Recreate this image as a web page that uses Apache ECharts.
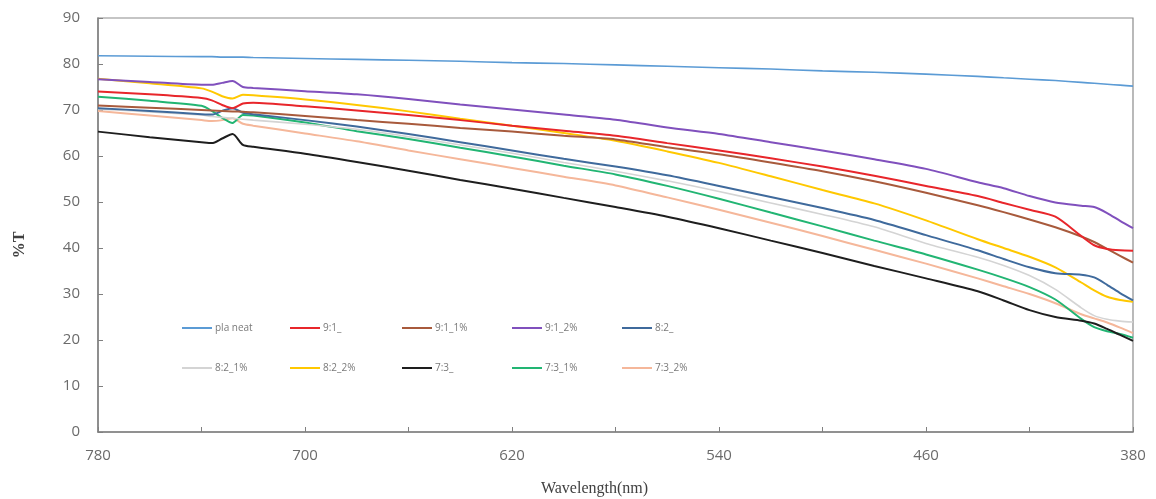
<!DOCTYPE html>
<html>
<head>
<meta charset="utf-8">
<script src="https://cdn.jsdelivr.net/npm/echarts@6/dist/echarts.min.js"></script>
<style>
  html, body { margin: 0; padding: 0; background: #fff; }
  #chart { width: 1156px; height: 499px; }
</style>
</head>
<body>
<div id="chart"></div>
<script>
// Transmittance spectra, wavelength (nm) vs %T
const wavelengths = [780, 760, 740, 736, 732, 728, 724, 720, 700, 680, 660, 640, 620, 600, 580,
                     560, 540, 520, 500, 480, 460, 440, 430, 420, 410, 400, 395, 390, 385, 380];

const plaNeat  = [81.8, 81.7, 81.6, 81.6, 81.5, 81.5, 81.5, 81.4, 81.2, 81.0, 80.8, 80.6, 80.3, 80.1, 79.8,
                  79.5, 79.2, 78.9, 78.5, 78.2, 77.8, 77.3, 77.0, 76.7, 76.4, 76.0, 75.8, 75.6, 75.4, 75.2];
const r91      = [74.0, 73.4, 72.6, 72.1, 71.1, 70.4, 71.4, 71.6, 70.8, 69.9, 68.9, 67.8, 66.6, 65.5, 64.4,
                  62.8, 61.2, 59.5, 57.7, 55.7, 53.5, 51.3, 49.8, 48.3, 46.8, 42.6, 40.6, 39.8, 39.5, 39.4];
const r91_1    = [71.0, 70.5, 70.0, 69.9, 69.8, 69.7, 69.6, 69.5, 68.7, 67.8, 67.0, 66.1, 65.3, 64.4, 63.6,
                  61.9, 60.4, 58.6, 56.7, 54.5, 52.0, 49.3, 47.8, 46.2, 44.5, 42.5, 41.3, 39.8, 38.3, 36.8];
const r91_2    = [76.7, 76.1, 75.5, 75.5, 75.9, 76.3, 75.0, 74.8, 74.1, 73.4, 72.4, 71.2, 70.1, 69.0, 67.9,
                  66.2, 64.8, 63.0, 61.2, 59.3, 57.2, 54.3, 53.0, 51.3, 49.9, 49.2, 48.9, 47.6, 45.9, 44.3];
const r82      = [70.4, 69.8, 69.1, 69.0, 69.8, 70.4, 69.4, 69.1, 67.8, 66.4, 64.8, 63.0, 61.2, 59.4, 57.7,
                  55.8, 53.5, 51.1, 48.7, 46.1, 42.8, 39.5, 37.6, 35.8, 34.5, 34.2, 33.6, 32.0, 30.2, 28.6];
const r82_1    = [70.2, 69.6, 68.9, 68.6, 68.4, 68.2, 68.0, 67.8, 66.9, 65.8, 64.2, 62.4, 60.6, 58.6, 56.7,
                  54.6, 52.3, 49.8, 47.3, 44.6, 41.0, 38.0, 36.2, 34.0, 31.0, 27.0, 25.3, 24.5, 24.1, 23.9];
const r82_2    = [76.8, 75.8, 74.7, 74.0, 73.0, 72.5, 73.3, 73.2, 72.3, 71.1, 69.7, 68.1, 66.6, 65.0, 63.3,
                  61.0, 58.5, 55.6, 52.6, 49.7, 46.0, 41.9, 40.0, 38.1, 35.8, 32.5, 30.8, 29.4, 28.7, 28.3];
const r73      = [65.3, 64.1, 63.0, 62.8, 63.8, 64.8, 62.4, 62.0, 60.5, 58.7, 56.8, 54.8, 52.9, 50.9, 48.9,
                  46.8, 44.3, 41.6, 38.9, 36.1, 33.4, 30.6, 28.6, 26.5, 25.0, 24.2, 23.6, 22.4, 21.1, 19.8];
const r73_1    = [72.9, 72.0, 70.9, 69.8, 68.3, 67.2, 68.9, 68.8, 67.3, 65.4, 63.7, 61.8, 59.9, 57.9, 56.0,
                  53.5, 50.7, 47.7, 44.7, 41.6, 38.6, 35.3, 33.5, 31.5, 28.8, 24.6, 22.8, 21.9, 21.3, 20.5];
const r73_2    = [69.8, 68.8, 67.8, 67.6, 67.8, 68.2, 67.0, 66.6, 64.9, 63.2, 61.2, 59.3, 57.4, 55.5, 53.6,
                  51.0, 48.3, 45.5, 42.6, 39.6, 36.6, 33.4, 31.7, 30.0, 28.0, 25.6, 24.7, 23.8, 22.7, 21.5];

const seriesNames  = ['pla neat', '9:1_', '9:1_1%', '9:1_2%', '8:2_', '8:2_1%', '8:2_2%', '7:3_', '7:3_1%', '7:3_2%'];
const seriesValues = [plaNeat, r91, r91_1, r91_2, r82, r82_1, r82_2, r73, r73_1, r73_2];
const seriesColors = ['#5b9bd5', '#e8262b', '#a85a3c', '#8050bd', '#3f6a9c', '#d4d4d4', '#ffc800', '#1e1e1e', '#22b573', '#f5b79a'];

const xTicks  = [380, 420, 460, 500, 540, 580, 620, 660, 700, 740, 780];
const xLabels = [380, 460, 540, 620, 700, 780];

const chart = echarts.init(document.getElementById('chart'));

const series = seriesNames.map((name, i) => ({
  name: name,
  type: 'line',
  data: wavelengths.map((w, k) => [w, seriesValues[i][k]]),
  symbol: 'none',
  smooth: 0.25,
  lineStyle: { color: seriesColors[i], width: (i === 0 || i === 5) ? 1.6 : 2 },
  itemStyle: { color: seriesColors[i] },
  z: 10 - i
}));

// legend laid out as 5 columns x 2 rows
const colLefts = [182, 290, 402, 512, 622];
const legends = colLefts.map((left, c) => ({
  orient: 'vertical',
  left: left,
  top: 321,
  padding: 0,
  itemGap: 26,
  itemWidth: 30,
  itemHeight: 2,
  icon: 'rect',
  selectedMode: false,
  data: [seriesNames[c], seriesNames[c + 5]],
  textStyle: { fontSize: 10, color: '#7a7a7a', fontFamily: 'Open Sans', lineHeight: 14, padding: [0, 0, 0, -2] }
}));

chart.setOption({
  animation: false,
  backgroundColor: '#ffffff',
  grid: {
    left: 98, right: 23, top: 18, bottom: 67,
    outerBoundsMode: 'none',
    show: true, borderColor: '#8c8c8c', borderWidth: 1.2
  },
  legend: legends,
  xAxis: {
    type: 'value',
    inverse: true,
    min: 380,
    max: 780,
    name: 'Wavelength(nm)',
    nameLocation: 'middle',
    nameGap: 49,
    nameTextStyle: { fontFamily: 'Liberation Serif', fontSize: 16, color: '#404040', padding: [0, 42, 0, 0] },
    axisLine: { lineStyle: { color: '#808080', width: 1.5 } },
    axisTick: { inside: true, length: 5, lineStyle: { color: '#808080' }, customValues: xTicks },
    axisLabel: { customValues: xLabels, margin: 16, fontSize: 15, color: '#6b6b6b', fontFamily: 'Open Sans' },
    splitLine: { show: false }
  },
  yAxis: {
    type: 'value',
    min: 0,
    max: 90,
    interval: 10,
    name: '%T',
    nameLocation: 'middle',
    nameGap: 70,
    nameTextStyle: { fontFamily: 'Liberation Serif', fontSize: 16, color: '#404040', fontWeight: 'bold', padding: [0, 40, 0, 0] },
    axisLine: { show: true, lineStyle: { color: '#808080', width: 1.5 } },
    axisTick: { show: true, inside: true, length: 5, lineStyle: { color: '#808080' } },
    axisLabel: { margin: 18, fontSize: 15, color: '#6b6b6b', fontFamily: 'Open Sans' },
    splitLine: { show: false }
  },
  series: series
});
</script>
</body>
</html>
